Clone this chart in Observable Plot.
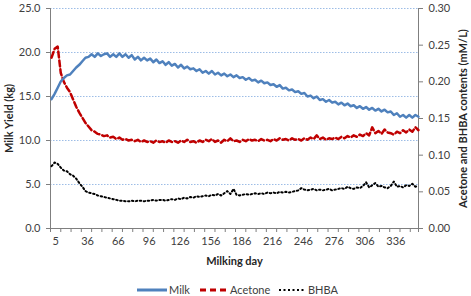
<!DOCTYPE html>
<html>
<head>
<meta charset="utf-8">
<script src="https://cdn.jsdelivr.net/npm/d3@7"></script>
<script src="https://cdn.jsdelivr.net/npm/@observablehq/plot@0.6"></script>
<style>
  html, body { margin: 0; padding: 0; background: #fff; }
  #wrap { width: 471px; font-family: Lato, "Liberation Sans", sans-serif; }
  #legend { position: relative; height: 12px; font-size: 11px; color: #404040; }
  #legend .item { position: absolute; top: 0; height: 12px; line-height: 12px; display: flex; align-items: center; }
  #legend svg { display: block; margin-right: 2px; }
</style>
</head>
<body>
<div id="wrap"></div>
<script>
// Milking days (sampled)
const days = [1,4,7,10,13,16,19,22,25,28,31,34,37,40,43,46,49,52,55,58,61,64,67,70,73,76,79,82,85,88,91,94,97,100,103,106,109,112,115,118,
121,124,127,130,133,136,139,142,145,148,151,154,157,160,163,166,169,172,175,178,181,184,187,190,193,196,199,202,205,208,
211,214,217,220,223,226,229,232,235,238,241,244,247,250,253,256,259,262,265,268,271,274,277,280,283,286,289,292,295,298,
301,304,307,310,313,316,319,322,325,328,331,334,337,340,343,346,349,352,355,358];

// Milk yield (kg), left axis
const milk = [14.7,15.3,16.0,16.7,17.1,17.4,17.5,17.9,18.3,18.6,19.0,19.4,19.5,19.8,19.5,19.9,19.6,19.8,19.9,19.5,19.8,19.5,19.9,19.5,19.8,19.4,19.7,19.2,19.5,19.1,19.4,19.1,19.3,18.9,19.2,18.8,19.0,18.6,18.9,18.5,
18.7,18.3,18.6,18.2,18.4,18.1,18.2,17.9,18.1,17.7,17.9,17.6,17.9,17.5,17.7,17.4,17.6,17.3,17.5,17.2,17.4,17.1,17.2,16.9,17.1,16.8,16.9,16.6,16.8,16.5,
16.6,16.3,16.4,16.1,16.3,15.9,16.0,15.7,15.8,15.5,15.6,15.3,15.4,15.0,15.1,14.8,15.0,14.6,14.7,14.4,14.6,14.3,14.4,14.1,14.3,14.0,14.2,13.9,14.0,13.7,
13.9,13.6,13.8,13.5,13.7,13.4,13.6,13.3,13.5,13.2,13.3,12.9,13.1,12.7,12.9,12.6,12.9,12.6,12.9,12.7];

// Acetone (mM/L), right axis
const acetone = [0.233,0.245,0.248,0.212,0.200,0.192,0.186,0.176,0.166,0.158,0.151,0.144,0.139,0.134,0.132,0.129,0.128,0.126,0.127,0.124,0.125,0.122,0.124,0.121,0.122,0.120,0.121,0.119,0.121,0.118,0.120,0.118,0.119,0.117,0.120,0.118,0.119,0.117,0.120,0.118,
0.119,0.117,0.120,0.118,0.121,0.118,0.119,0.117,0.120,0.118,0.121,0.119,0.122,0.118,0.120,0.117,0.121,0.119,0.123,0.119,0.120,0.118,0.121,0.119,0.122,0.120,0.121,0.119,0.122,0.120,
0.121,0.119,0.122,0.120,0.123,0.121,0.122,0.120,0.123,0.121,0.122,0.120,0.123,0.121,0.124,0.122,0.127,0.122,0.124,0.121,0.123,0.122,0.124,0.122,0.125,0.123,0.126,0.124,0.127,0.125,
0.128,0.126,0.130,0.127,0.138,0.130,0.133,0.129,0.135,0.131,0.130,0.128,0.132,0.130,0.134,0.131,0.135,0.132,0.138,0.134];

// BHBA (mM/L), right axis
const bhba = [0.085,0.090,0.088,0.083,0.079,0.078,0.074,0.072,0.068,0.062,0.057,0.051,0.049,0.048,0.047,0.045,0.044,0.043,0.042,0.041,0.040,0.039,0.038,0.038,0.037,0.037,0.038,0.037,0.038,0.038,0.037,0.038,0.038,0.039,0.038,0.039,0.039,0.038,0.039,0.040,
0.039,0.041,0.040,0.042,0.041,0.043,0.042,0.044,0.043,0.044,0.045,0.044,0.046,0.045,0.047,0.045,0.048,0.051,0.047,0.054,0.046,0.045,0.046,0.047,0.046,0.047,0.048,0.047,0.048,0.047,
0.049,0.048,0.049,0.048,0.050,0.049,0.050,0.049,0.050,0.051,0.052,0.055,0.053,0.052,0.053,0.054,0.052,0.053,0.052,0.053,0.054,0.052,0.053,0.054,0.055,0.054,0.057,0.055,0.054,0.056,
0.055,0.058,0.063,0.056,0.059,0.062,0.057,0.058,0.056,0.055,0.058,0.064,0.057,0.058,0.056,0.059,0.058,0.061,0.057,0.058];

const xLabelDays = [5,36,66,96,126,156,186,216,246,276,306,336];
const xMinorTicks = [0,10,20,30,40,50,60,70,80,90,100,110,120,130,140,150,160,170,180,190,200,210,220,230,240,250,260,270,280,290,300,310,320,330,340,350,358];
const leftTicks = [0,5,10,15,20,25];
const rightTicks = [0,0.05,0.10,0.15,0.20,0.25,0.30];
const seriesNames = ["Milk","Acetone","BHBA"];
const colors = ["#4F81BD","#C00000","#000000"];
const yTitle = "Milk Yield (kg)";
const y2Title = "Acetone and BHBA contents (mM/L)";
const xTitle = "Milking day";

const ratio = 25 / 0.30; // right axis to left axis scaling
const rows = days.map((d, i) => ({day: d, milk: milk[i], acetone: acetone[i] * ratio, bhba: bhba[i] * ratio}));

const chart = Plot.plot({
  width: 471,
  height: 284,
  marginLeft: 50,
  marginRight: 53,
  marginTop: 8,
  marginBottom: 56,
  style: {fontFamily: "Lato, 'Liberation Sans', sans-serif", fontSize: "11px", background: "#fff", color: "#404040"},
  x: {domain: [0, 358]},
  y: {domain: [0, 25]},
  marks: [
    Plot.ruleY(leftTicks.filter(d => d > 0), {stroke: "#9DBDE6", strokeDasharray: "1.5,1.5", strokeWidth: 1}),
    Plot.axisY({ticks: leftTicks, tickFormat: d => d.toFixed(1), tickSize: 4, tickPadding: 6, stroke: "#7f7f7f", fill: "#404040", label: null}),
    Plot.axisY({anchor: "right", ticks: rightTicks.map(v => v * ratio), tickFormat: d => (d / ratio).toFixed(2), tickSize: 4, tickPadding: 6, stroke: "#7f7f7f", fill: "#404040", label: null}),
    Plot.axisX({ticks: xMinorTicks, tickFormat: () => "", tickSize: 4, stroke: "#7f7f7f", label: null}),
    Plot.axisX({ticks: xLabelDays, tickFormat: d => String(d), tickSize: 0, tickPadding: 9, fill: "#404040", label: null}),
    Plot.ruleX([0, 358], {stroke: "#7f7f7f", strokeWidth: 1}),
    Plot.ruleY([0], {stroke: "#7f7f7f", strokeWidth: 1}),
    Plot.line(rows, {x: "day", y: "bhba", stroke: colors[2], strokeWidth: 2, strokeDasharray: "1.5,2.5"}),
    Plot.line(rows, {x: "day", y: "acetone", stroke: colors[1], strokeWidth: 2.5, strokeDasharray: "6,3"}),
    Plot.line(rows, {x: "day", y: "milk", stroke: colors[0], strokeWidth: 2.5}),
    Plot.text([yTitle], {frameAnchor: "left", dx: -41, rotate: -90, textAnchor: "middle", lineAnchor: "middle", fontWeight: "bold", fill: "#262626"}),
    Plot.text([y2Title], {frameAnchor: "right", dx: 45, rotate: -90, textAnchor: "middle", lineAnchor: "middle", fontWeight: "bold", fill: "#262626"}),
    Plot.text([xTitle], {frameAnchor: "bottom", dy: 33, textAnchor: "middle", lineAnchor: "middle", fontWeight: "bold", fill: "#262626"})
  ]
});

const wrap = document.getElementById("wrap");
wrap.appendChild(chart);

const legend = document.createElement("div");
legend.id = "legend";
const lefts = [137, 200, 279];
const swatches = [
  `<svg width="30" height="6"><line x1="0" y1="3" x2="30" y2="3" stroke="${colors[0]}" stroke-width="3"/></svg>`,
  `<svg width="28" height="6"><line x1="0" y1="3" x2="28" y2="3" stroke="${colors[1]}" stroke-width="3" stroke-dasharray="6,4"/></svg>`,
  `<svg width="27" height="6"><line x1="0" y1="3" x2="27" y2="3" stroke="${colors[2]}" stroke-width="2" stroke-dasharray="2,2.5"/></svg>`
];
seriesNames.forEach((name, i) => {
  const it = document.createElement("div");
  it.className = "item";
  it.style.left = lefts[i] + "px";
  it.innerHTML = swatches[i] + `<span>${name}</span>`;
  legend.appendChild(it);
});
wrap.appendChild(legend);
</script>
</body>
</html>
